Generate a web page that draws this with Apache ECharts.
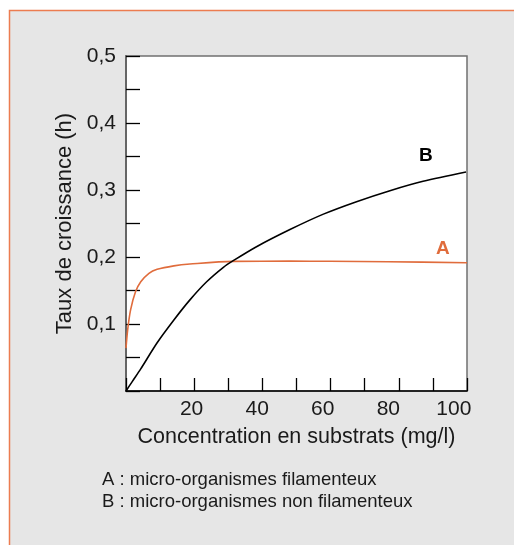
<!DOCTYPE html>
<html>
<head>
<meta charset="utf-8">
<script src="https://cdn.jsdelivr.net/npm/echarts@6/dist/echarts.min.js"></script>
<style>
  html, body { margin: 0; padding: 0; background: #fff; }
  #chart { width: 514px; height: 545px; }
</style>
</head>
<body>
<div id="chart"></div>
<script>
// courbe A : micro-organismes filamenteux
const xA = [0, 0.5, 1.4, 2.9, 4.5, 7, 9.5, 14.6, 19.5, 32.7, 50, 62.2, 80, 104];
const yA = [0.064, 0.091, 0.121, 0.148, 0.163, 0.1757, 0.1816, 0.1868, 0.1895, 0.1935, 0.1938, 0.1936, 0.193, 0.1915];
// courbe B : micro-organismes non filamenteux
const xB = [0, 1.9, 4.5, 9.5, 14.6, 19.5, 24.6, 29.7, 32.7, 39.8, 50, 60.2, 70.3, 80.5, 90.6, 103.7];
const yB = [0, 0.014, 0.033, 0.072, 0.106, 0.136, 0.163, 0.1846, 0.1945, 0.2154, 0.241, 0.264, 0.2826, 0.299, 0.313, 0.327];

const xLabels = [20, 40, 60, 80, 100];
const yLabels = [0.1, 0.2, 0.3, 0.4, 0.5];

const font = "'Liberation Sans', Arial, sans-serif";

const chart = echarts.init(document.getElementById("chart"));

function pairs(xs, ys) {
  return xs.map((x, i) => [x, ys[i]]);
}

chart.setOption({
  animation: false,
  backgroundColor: "#fff",
  graphic: [
    {
      type: "rect",
      z: -10,
      shape: { x: 9.5, y: 10.5, width: 520, height: 560 },
      style: { fill: "#e6e6e6", stroke: "#ec7c50", lineWidth: 1.5 },
    },
    {
      type: "text",
      left: 419, top: 146, z: 10,
      style: { text: "B", font: "bold 19px " + font, fill: "#000" },
    },
    {
      type: "text",
      left: 436, top: 239, z: 10,
      style: { text: "A", font: "bold 19px " + font, fill: "#e06c3c" },
    },
    {
      type: "text",
      left: 102, top: 470,
      style: { text: "A : micro-organismes filamenteux", font: "18.5px " + font, fill: "#1a1a1a" },
    },
    {
      type: "text",
      left: 102, top: 492,
      style: { text: "B : micro-organismes non filamenteux", font: "18.5px " + font, fill: "#1a1a1a" },
    },
  ],
  grid: {
    left: 126,
    top: 56,
    width: 341,
    height: 335,
    show: true,
    backgroundColor: "#fff",
    borderColor: "#707070",
    borderWidth: 1.5,
  },
  xAxis: [
    {
      type: "value",
      min: 0,
      max: 104,
      interval: 20,
      name: "Concentration en substrats (mg/l)",
      nameLocation: "middle",
      nameGap: 35,
      nameTextStyle: { fontFamily: font, fontSize: 21.5, color: "#1a1a1a" },
      axisLine: { lineStyle: { color: "#000", width: 1.5 } },
      axisTick: { show: false },
      splitLine: { show: false },
      axisLabel: {
        fontFamily: font,
        fontSize: 21,
        color: "#1a1a1a",
        margin: 8,
        formatter: (v) => (xLabels.indexOf(v) >= 0 ? String(v) : ""),
      },
    },
    {
      // graduations tous les 10 (sans étiquettes)
      type: "value",
      position: "bottom",
      min: 0,
      max: 10,
      interval: 1,
      axisLine: { show: false },
      axisTick: { inside: true, length: 13, lineStyle: { color: "#000", width: 1.3 } },
      axisLabel: { show: false },
      splitLine: { show: false },
    },
  ],
  yAxis: {
    type: "value",
    min: 0,
    max: 0.5,
    interval: 0.05,
    name: "Taux de croissance (h)",
    nameLocation: "middle",
    nameGap: 47,
    nameTextStyle: { fontFamily: font, fontSize: 22, color: "#1a1a1a" },
    axisLine: { show: true, lineStyle: { color: "#666", width: 2 } },
    axisTick: { inside: true, length: 14, lineStyle: { color: "#000", width: 1.3 } },
    splitLine: { show: false },
    axisLabel: {
      fontFamily: font,
      fontSize: 21,
      color: "#1a1a1a",
      margin: 10,
      formatter: (v) => {
        const r = Math.round(v * 100) / 100;
        return yLabels.indexOf(r) >= 0 ? r.toFixed(1).replace(".", ",") : "";
      },
    },
  },
  series: [
    {
      name: "A",
      type: "line",
      smooth: 0.3,
      symbol: "none",
      data: pairs(xA, yA),
      lineStyle: { color: "#e06c3c", width: 1.6 },
    },
    {
      name: "B",
      type: "line",
      smooth: 0.3,
      symbol: "none",
      data: pairs(xB, yB),
      lineStyle: { color: "#000", width: 1.6 },
    },
  ],
});
</script>
</body>
</html>
